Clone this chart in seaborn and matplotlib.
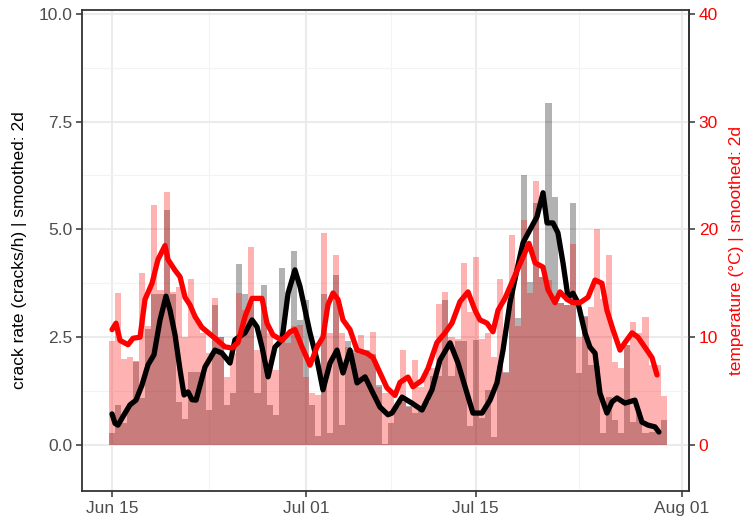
import numpy as np
import pandas as pd
import matplotlib
matplotlib.use("Agg")
import matplotlib.pyplot as plt
import matplotlib.dates as mdates
from matplotlib.ticker import FixedLocator
import seaborn as sns

start = pd.Timestamp("2023-06-15")

# 12 h bins from Jun 15
crack_rate = [0.28, 0.93, 0.5, 0.9, 1.95, 1.1, 2.7, 3.5, 3.5, 5.45,
              3.5, 1.0, 0.6, 1.7, 1.7, 1.7, 0.8, 3.25, 2.5, 0.93,
              1.2, 4.2, 3.5, 3.3, 1.2, 3.7, 0.93, 0.7, 4.1, 2.6,
              4.5, 2.9, 3.36, 0.93, 0.2, 3.5, 0.28, 3.94, 0.46, 2.4,
              2.2, 2.1, 2.2, 2.1, 1.4, 0.02, 0.5, 0.9, 1.0, 0.9,
              0.74, 0.9, 1.0, 1.6, 1.6, 3.36, 1.6, 2.4, 2.4, 0.43,
              2.44, 0.62, 1.28, 0.19, 1.82, 1.7, 3.79, 2.95, 6.26, 3.79,
              5.61, 3.9, 7.93, 5.76, 3.3, 3.25, 5.61, 1.67, 3.0, 1.86,
              1.82, 0.28, 1.12, 0.58, 0.28, 2.32, 0.54, 0.77, 0.28, 0.3,
              0.3, 0.58]
temperature = [9.6, 14.1, 8.0, 8.2, 7.7, 16.0, 11.0, 22.3, 14.4, 23.5,
               14.2, 14.7, 10.0, 15.4, 11.5, 10.4, 8.5, 13.6, 10.0, 6.3,
               8.5, 14.1, 12.5, 18.4, 8.8, 12.8, 10.4, 7.0, 9.9, 9.5,
               11.0, 11.1, 6.3, 4.8, 4.6, 19.7, 10.4, 17.6, 10.4, 9.1,
               8.5, 10.2, 8.5, 10.5, 5.4, 4.8, 4.8, 3.5, 8.8, 3.5,
               7.9, 5.4, 6.7, 7.1, 13.1, 14.2, 10.0, 9.8, 16.9, 12.3,
               17.4, 9.8, 10.4, 8.2, 15.4, 6.7, 19.5, 11.0, 20.9, 14.1,
               24.5, 15.6, 15.3, 13.6, 13.2, 13.0, 18.6, 10.0, 11.9, 12.8,
               20.0, 13.5, 17.6, 7.7, 7.1, 9.3, 11.4, 10.4, 11.9, 7.4,
               7.4, 4.5]

# smoothed series (days after Jun 15, value)
crack_smooth_day = [0.0, 0.25, 0.49, 0.99, 1.48, 1.98, 2.47, 2.97, 3.46, 3.96,
                    4.45, 4.78, 5.2, 5.61, 5.94, 6.27, 6.6, 6.93, 7.67, 8.49,
                    9.07, 9.73, 10.14, 10.97, 11.55, 11.96, 12.37, 12.87, 13.44, 14.02,
                    14.52, 15.09, 15.51, 15.92, 16.33, 16.91, 17.4, 17.98, 18.56, 19.05,
                    19.63, 20.21, 20.87, 21.53, 22.1, 22.76, 23.09, 23.92, 24.74, 25.57,
                    26.39, 27.05, 27.88, 28.54, 29.28, 29.77, 30.52, 31.18, 31.75, 32.25,
                    32.82, 33.4, 33.9, 34.47, 35.05, 35.55, 35.88, 36.37, 36.78, 37.2,
                    37.61, 38.02, 38.43, 39.01, 39.42, 39.84, 40.25, 40.82, 41.24, 41.65,
                    42.31, 43.13, 43.71, 44.21, 44.78, 45.11]
crack_smooth = [0.72, 0.5, 0.46, 0.7, 0.93, 1.04, 1.39, 1.86, 2.09, 2.9,
                3.45, 3.13, 2.55, 1.74, 1.16, 1.23, 1.05, 1.04, 1.81, 2.2,
                2.13, 1.9, 2.44, 2.6, 2.9, 2.74, 2.27, 1.58, 2.27, 2.44,
                3.52, 4.06, 3.67, 3.13, 2.6, 1.97, 1.28, 1.9, 2.2, 1.67,
                2.2, 1.44, 1.58, 1.2, 0.88, 0.7, 0.74, 1.11, 0.97, 0.81,
                1.28, 1.97, 2.37, 1.9, 1.2, 0.74, 0.74, 1.04, 1.44, 2.2,
                3.29, 4.06, 4.69, 4.99, 5.29, 5.85, 5.15, 5.15, 4.92, 4.22,
                3.43, 3.52, 3.3, 2.6, 2.27, 2.13, 1.2, 0.74, 1.0, 1.09,
                0.97, 1.04, 0.53, 0.46, 0.42, 0.3]
temp_smooth_day = [0.0, 0.33, 0.66, 1.32, 1.73, 2.31, 2.72, 3.3, 3.79, 4.37,
                   4.62, 5.2, 5.61, 6.02, 6.43, 6.85, 7.42, 8.49, 9.32, 9.9,
                   10.39, 10.97, 11.55, 12.37, 12.78, 13.28, 14.02, 14.68, 15.09, 15.67,
                   16.33, 16.91, 17.4, 17.81, 18.23, 18.64, 19.05, 19.63, 20.21, 21.03,
                   21.53, 22.1, 22.68, 23.34, 23.75, 24.41, 24.82, 25.57, 26.06, 26.8,
                   27.46, 28.04, 28.7, 29.36, 29.94, 30.35, 30.93, 31.42, 31.84, 32.41,
                   33.07, 33.81, 34.39, 34.89, 35.55, 35.96, 36.54, 36.95, 37.53, 38.02,
                   38.6, 39.26, 39.84, 40.41, 40.82, 41.32, 41.9, 42.31, 42.89, 43.38,
                   44.12, 44.54, 44.95]
temp_smooth = [10.7, 11.3, 9.7, 9.3, 9.9, 10.0, 13.5, 15.0, 17.2, 18.5,
               17.2, 16.2, 15.6, 13.7, 13.0, 11.9, 10.9, 9.9, 9.1, 9.0,
               9.5, 11.9, 13.6, 13.6, 11.3, 10.2, 9.7, 10.5, 10.7, 9.1,
               7.4, 9.1, 10.0, 13.0, 14.1, 13.5, 11.6, 10.7, 8.8, 8.5,
               8.1, 6.7, 5.3, 4.6, 5.8, 6.3, 5.4, 6.0, 7.1, 9.5,
               10.4, 11.3, 13.3, 14.2, 12.5, 11.6, 11.3, 10.5, 12.5, 13.6,
               15.3, 17.2, 18.7, 16.9, 16.5, 14.4, 13.2, 14.2, 13.5, 13.2,
               13.2, 13.7, 15.3, 15.0, 12.5, 10.7, 8.8, 9.5, 10.4, 10.0,
               8.8, 8.1, 6.5]

x_ticks = ["2023-06-15 00:00", "2023-07-01 00:00", "2023-07-15 00:00", "2023-08-01 00:00"]
x_minor = ["2023-06-23 00:00", "2023-07-08 00:00", "2023-07-23 12:00"]
y_ticks = [0, 2.5, 5, 7.5, 10]
temp_ticks = [0, 10, 20, 30, 40]
TEMP_SCALE = 4  # right axis = left axis * 4

sns.set_theme(style="whitegrid")
plt.rcParams["font.family"] = ["Liberation Sans", "DejaVu Sans"]
plt.rcParams["font.size"] = 12.5

bar_time = start + pd.to_timedelta(np.arange(len(crack_rate)) * 12, unit="h")
crack_time = start + pd.to_timedelta(crack_smooth_day, unit="D")
temp_time = start + pd.to_timedelta(temp_smooth_day, unit="D")

fig, ax = plt.subplots(figsize=(7.53, 5.23), dpi=100)
fig.subplots_adjust(left=0.109, right=0.915, top=0.981, bottom=0.061)

ax.bar(bar_time, crack_rate, width=0.5, color="black", alpha=0.3,
       linewidth=0, zorder=2)
ax.bar(bar_time, np.array(temperature) / TEMP_SCALE, width=0.5, color="red",
       alpha=0.3, linewidth=0, zorder=2)
sns.lineplot(x=crack_time, y=crack_smooth, ax=ax, color="black",
             linewidth=3.8, zorder=3)
sns.lineplot(x=temp_time, y=np.array(temp_smooth) / TEMP_SCALE, ax=ax,
             color="red", linewidth=3.8, zorder=4)

ax.set_xlim(start - pd.Timedelta(days=2.47), start + pd.Timedelta(days=47.59))
ax.set_ylim(-1.07, 10.09)
ax.set_xticks(pd.to_datetime(x_ticks, format="%Y-%m-%d %H:%M"))
ax.xaxis.set_major_formatter(mdates.DateFormatter("%b %d"))
ax.xaxis.set_minor_locator(FixedLocator(
    mdates.date2num(pd.to_datetime(x_minor, format="%Y-%m-%d %H:%M"))))
ax.set_yticks(y_ticks)
ax.yaxis.set_minor_locator(FixedLocator([1.25, 3.75, 6.25, 8.75]))

ax.grid(which="major", color="#EBEBEB", linewidth=1.5)
ax.grid(which="minor", color="#F3F3F3", linewidth=0.8)
ax.set_axisbelow(True)
for s in ax.spines.values():
    s.set_color("#333333")
    s.set_linewidth(1.3)

ax.tick_params(which="major", direction="out", length=4, width=1.1,
               color="#333333", labelcolor="#4D4D4D", labelsize=12.5,
               bottom=True, left=True, pad=3)
ax.tick_params(which="minor", length=0)
ax.set_xlabel("")
ax.set_ylabel("crack rate (cracks/h) | smoothed: 2d", color="black",
              fontsize=12.5, labelpad=8)

sec = ax.secondary_yaxis("right", functions=(lambda v: v * TEMP_SCALE,
                                             lambda t: t / TEMP_SCALE))
sec.set_yticks(temp_ticks)
sec.spines["right"].set_color("#333333")
sec.spines["right"].set_linewidth(1.3)
sec.tick_params(direction="out", length=4, width=1.1, color="#333333",
                labelcolor="red", labelsize=12.5, pad=3)
sec.set_ylabel("temperature (°C) | smoothed: 2d", color="red",
               fontsize=12.5, labelpad=8)

fig.savefig("out.png", dpi=100)
